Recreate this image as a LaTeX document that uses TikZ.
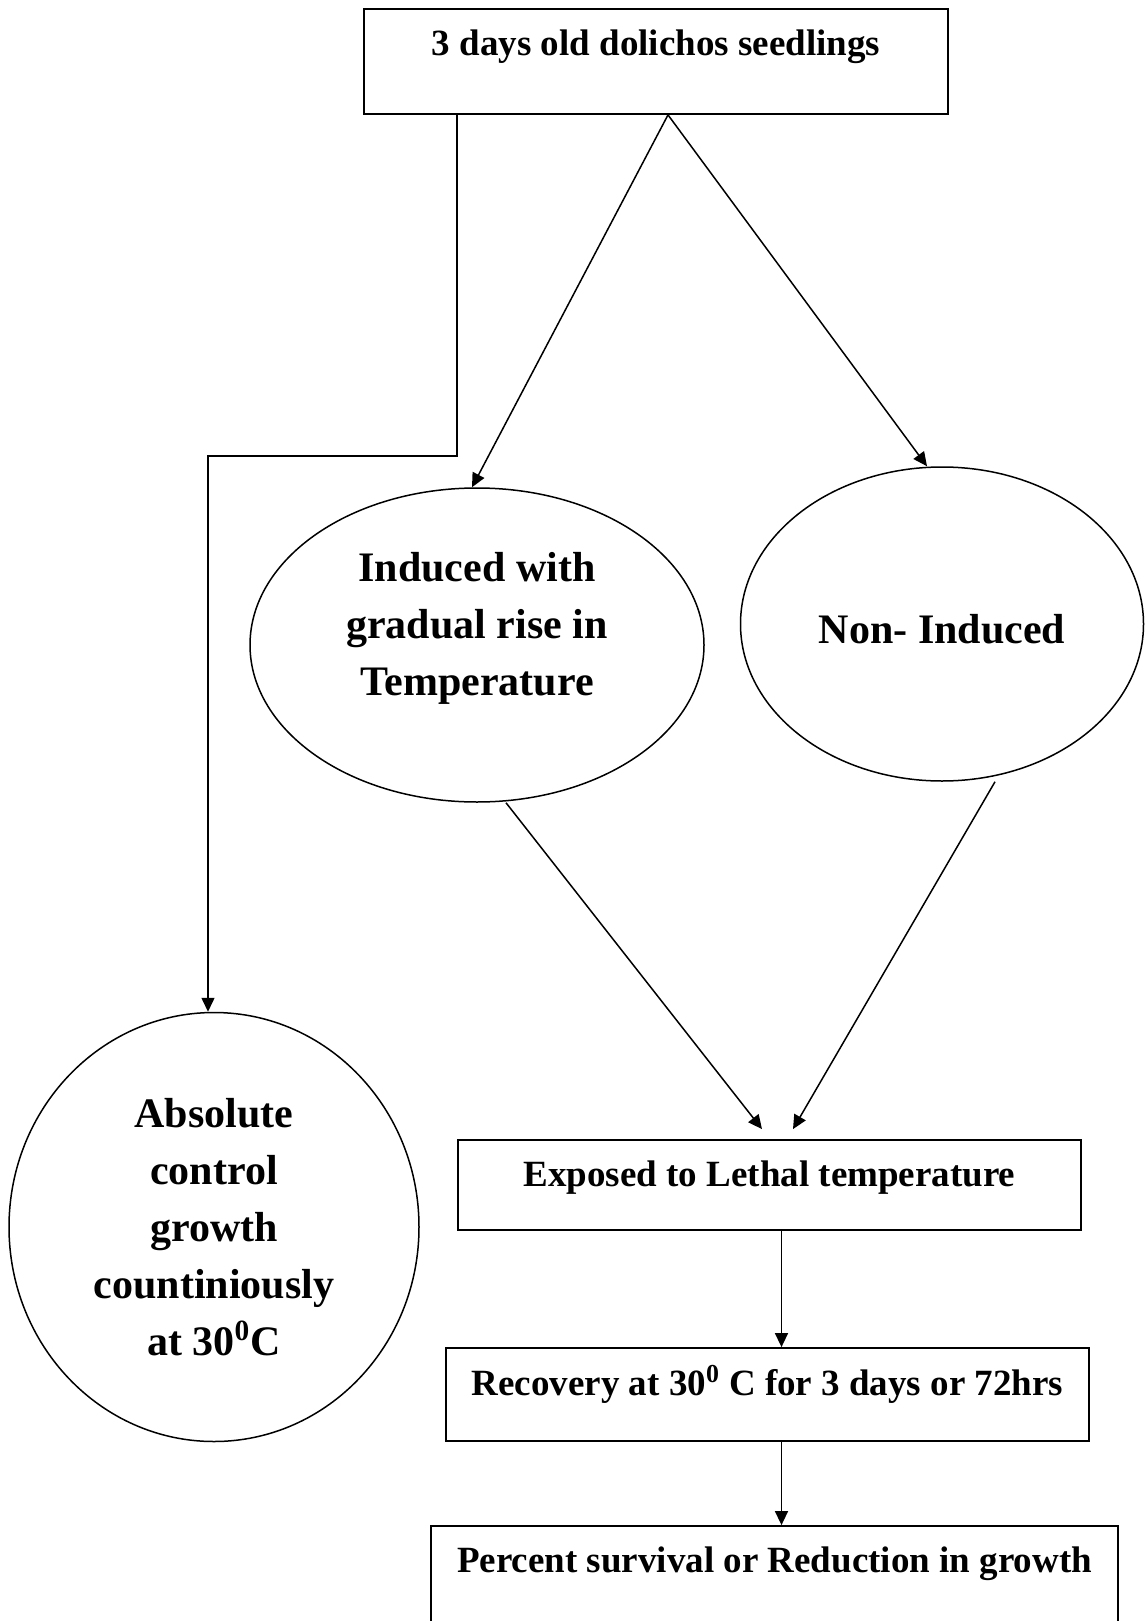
\documentclass[tikz,border=0pt]{standalone}
\usepackage{fontspec}
\setmainfont{Liberation Serif}
\usetikzlibrary{positioning, arrows.meta, shapes.geometric}

\begin{document}
\begin{tikzpicture}[
    x=0.5pt, y=-0.5pt,
    stepbox/.style={draw, line width=0.9pt, inner sep=0pt, font=\fontsize{18.5}{22}\selectfont\bfseries, text height=23.5pt},
    oval/.style={draw, ellipse, line width=0.75pt, inner sep=0pt, align=center, font=\fontsize{21}{28.5}\selectfont\bfseries},
    arr/.style={-{Triangle[length=7pt, width=6.5pt]}, line width=0.75pt},
]
\useasboundingbox (0,0) rectangle (1146,1621);

% seedlings
\node[stepbox, minimum width=292pt, text depth=29pt] (seed) at (656,61.5) {3 days old dolichos seedlings};

% treatments
\node[oval, minimum width=227pt, minimum height=157pt, text depth=21pt] (indu) at (477,645) {Induced with\\gradual rise in\\Temperature};
\node[oval, minimum width=201.5pt, minimum height=157pt, text height=20.2pt] (noni) at (942,624) {Non- Induced};
\node[oval, minimum width=205pt, minimum height=214.5pt] (ctrl) at (214,1227) {Absolute\\control\\growth\\countiniously\\at 30\textsuperscript{0}C};

% lethal exposure and after
\node[stepbox, minimum width=311.5pt, text height=23pt, text depth=22pt] (expo) at (769.5,1185) {Exposed to Lethal temperature};
\node[stepbox, minimum width=321.5pt, text depth=23pt] (reco) at (767.5,1394.5) {Recovery at 30\textsuperscript{0} C for 3 days or 72hrs};
\node[stepbox, minimum width=343.5pt, text height=23pt, text depth=34pt] (perc) at (774.5,1583) {Percent survival or Reduction in growth};

% arrows
\draw[arr] ([xshift=-99.5pt]seed.south) -- ++(0,341) -| ([xshift=-3pt]ctrl.north);
\draw[arr] ([xshift=6pt]seed.south) -- ([xshift=-2.5pt]indu.north);
\draw[arr] ([xshift=6pt]seed.south) -- ([xshift=-7.5pt]noni.north);
\draw[arr] ([xshift=14.5pt]indu.south) -- ([xshift=-3.75pt, yshift=5pt]expo.north);
\draw[arr] ([xshift=26.5pt]noni.south) -- ([xshift=11.75pt, yshift=5pt]expo.north);
\draw[arr] ([xshift=6pt]expo.south) -- ([xshift=6pt]expo.south |- reco.north);
\draw[arr] ([xshift=7pt]reco.south) -- ([xshift=7pt]reco.south |- perc.north);

\end{tikzpicture}
\end{document}
